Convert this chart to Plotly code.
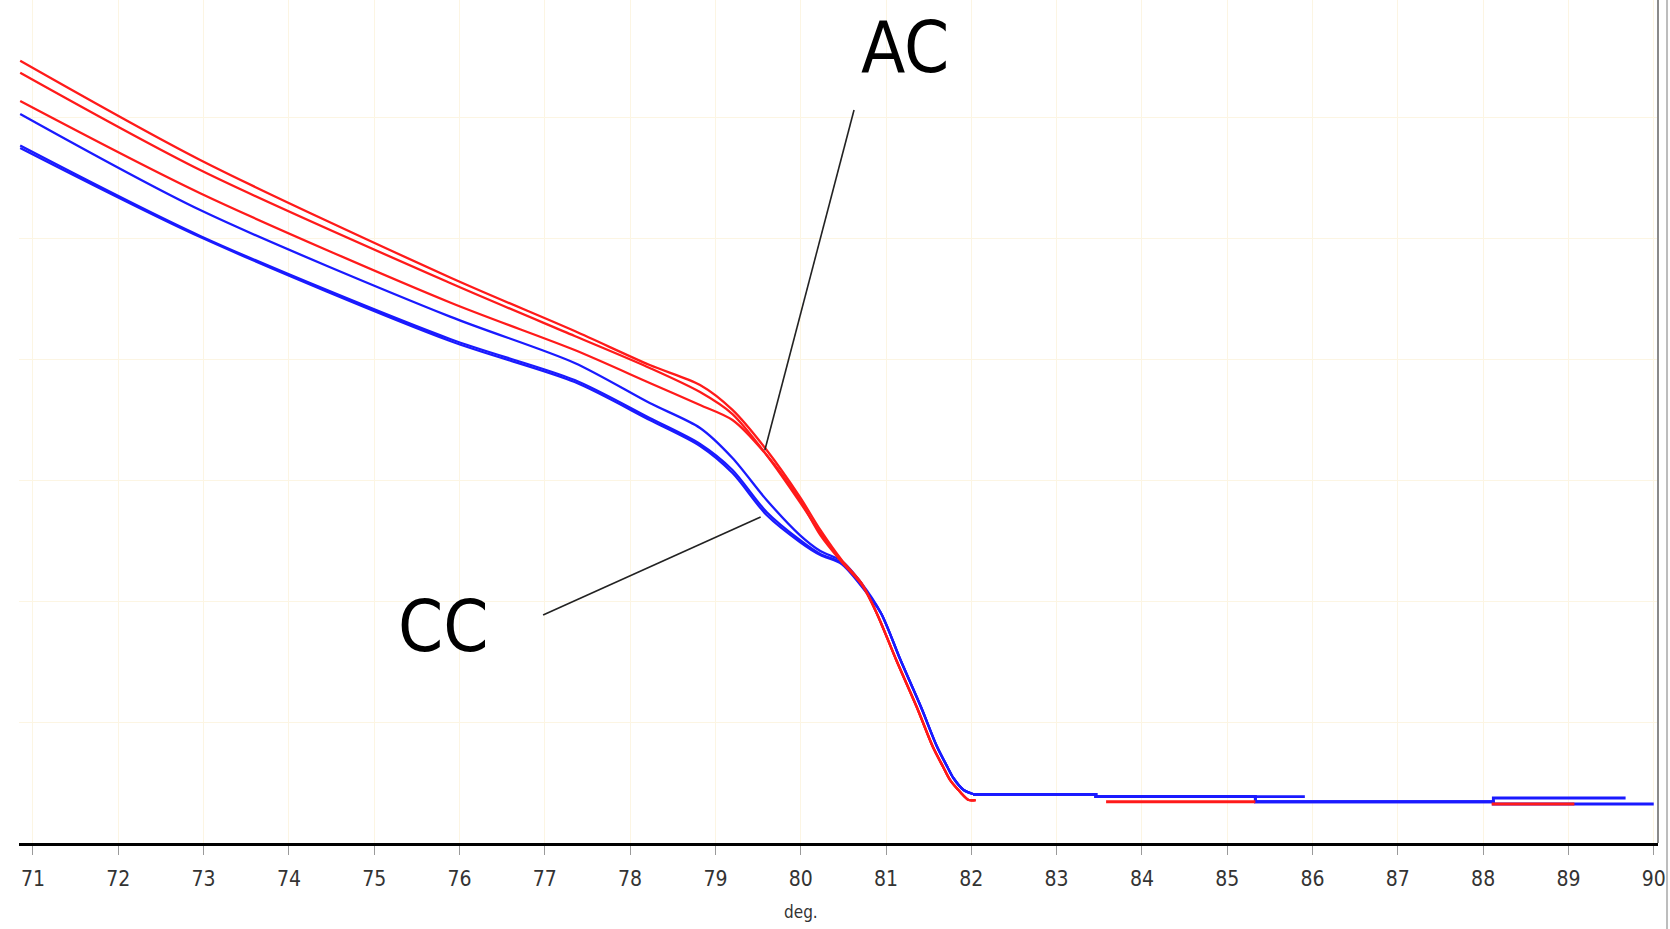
import plotly.graph_objects as go

# ---------------- data (x in deg., y in relative fluorescence units) ----------------
x_main = [70.85, 72.96, 75.89, 77.35, 78.23, 78.82, 79.2, 79.6, 79.99, 80.23, 80.48, 80.71]

red1_y = [6.465, 5.645, 4.674, 4.231, 3.950, 3.785, 3.579, 3.248, 2.860, 2.587, 2.339, 2.149]
red2_y = [6.366, 5.562, 4.628, 4.190, 3.926, 3.727, 3.545, 3.207, 2.818, 2.562, 2.331, 2.149]
red3_y = [6.132, 5.370, 4.467, 4.074, 3.802, 3.620, 3.496, 3.207, 2.835, 2.545, 2.322, 2.140]

blue1_y = [6.025, 5.231, 4.350, 3.967, 3.636, 3.430, 3.182, 2.835, 2.545, 2.413, 2.331, 2.149]
blue2_y = [5.764, 5.017, 4.165, 3.826, 3.512, 3.298, 3.083, 2.736, 2.504, 2.388, 2.314, 2.132]
blue3_y = [5.744, 5.008, 4.149, 3.810, 3.496, 3.281, 3.058, 2.711, 2.488, 2.380, 2.306, 2.124]

# steep melting drop
red_drop_x = [80.89, 81.12, 81.36, 81.55, 81.67, 81.75, 81.87, 81.97, 82.05]
red_drop_y = [1.901, 1.512, 1.124, 0.793, 0.628, 0.521, 0.421, 0.355, 0.355]
blue_drop_x = [80.94, 81.17, 81.41, 81.60, 81.72, 81.79, 81.91, 82.02]
blue_drop_y = [1.901, 1.512, 1.124, 0.793, 0.628, 0.537, 0.438, 0.405]

# baseline tails (visible segments)
red3_tail_x = [83.58, 85.33, None, 88.10, 89.07]
red3_tail_y = [0.341, 0.341, None, 0.322, 0.322]

blue1_tail_x = [82.02, 83.46, 83.46, 85.91]
blue1_tail_y = [0.402, 0.402, 0.383, 0.383]
blue2_tail_x = [82.02, 83.46, 83.46, 85.33, 85.33, 88.12, 88.12, 89.67]
blue2_tail_y = [0.402, 0.402, 0.383, 0.383, 0.341, 0.341, 0.372, 0.372]
blue3_tail_x = [82.02, 83.46, 83.46, 85.33, 85.33, 88.12, 88.12, 90.00]
blue3_tail_y = [0.402, 0.402, 0.383, 0.383, 0.341, 0.341, 0.322, 0.322]

tick_vals = list(range(71, 91))
tick_text = [str(v) for v in tick_vals]
x_title = "deg."

labels = ["AC", "CC"]
label_x = [81.22, 75.81]
label_y = [6.58, 1.79]
# pointer lines: (x0, y0, x1, y1)
pointer_ac = [80.625, 6.058, 79.58, 3.248]
pointer_cc = [76.98, 1.884, 79.53, 2.694]

RED = "#ff1a1a"
BLUE = "#1a1aff"
FONT = "Liberation Sans Narrow, Arial Narrow, DejaVu Sans Condensed, Liberation Sans, sans-serif"
LW = 2.3

fig = go.Figure()


def add_series(main_y, drop_x, drop_y, tail_x, tail_y, color):
    fig.add_trace(go.Scatter(
        x=x_main + drop_x, y=main_y + drop_y, mode="lines",
        line=dict(color=color, width=LW, shape="spline", smoothing=0.8),
        showlegend=False, hoverinfo="skip"))
    if tail_x:
        fig.add_trace(go.Scatter(
            x=tail_x, y=tail_y, mode="lines", connectgaps=False,
            line=dict(color=color, width=LW + 0.6),
            showlegend=False, hoverinfo="skip"))


add_series(blue1_y, blue_drop_x, blue_drop_y, blue1_tail_x, blue1_tail_y, BLUE)
add_series(blue2_y, blue_drop_x, blue_drop_y, blue2_tail_x, blue2_tail_y, BLUE)
add_series(blue3_y, blue_drop_x, blue_drop_y, blue3_tail_x, blue3_tail_y, BLUE)
add_series(red1_y, red_drop_x, red_drop_y, [], [], RED)
add_series(red2_y, red_drop_x, red_drop_y, [], [], RED)
add_series(red3_y, red_drop_x, red_drop_y, red3_tail_x, red3_tail_y, RED)

for p in (pointer_ac, pointer_cc):
    fig.add_shape(type="line", xref="x", yref="y", x0=p[0], y0=p[1], x1=p[2], y1=p[3],
                  line=dict(color="#222222", width=1.6))

for t, lx, ly in zip(labels, label_x, label_y):
    fig.add_annotation(x=lx, y=ly, xref="x", yref="y", text=t, showarrow=False,
                       font=dict(family=FONT, size=72, color="#000000"))

fig.add_annotation(x=80, y=-0.082, xref="x", yref="paper", text=x_title, showarrow=False,
                   yanchor="middle", font=dict(family=FONT, size=17, color="#333333"))

# right frame borders
fig.add_shape(type="line", xref="paper", yref="paper", x0=1, x1=1, y0=0, y1=1,
              line=dict(color="#8a8a8a", width=2))
fig.add_shape(type="line", xref="paper", yref="paper", x0=1.0055, x1=1.0055, y0=-0.11, y1=1,
              line=dict(color="#bdbdbd", width=2))

fig.update_layout(
    width=1670, height=929,
    margin=dict(l=19, r=12, t=0, b=86),
    paper_bgcolor="white", plot_bgcolor="white",
    xaxis=dict(range=[70.836, 90.05], tickvals=tick_vals, ticktext=tick_text,
               showgrid=True, gridcolor="#fcf5e3", gridwidth=1, zeroline=False,
               showline=True, linecolor="#000000", linewidth=3,
               ticks="outside", ticklen=9, tickcolor="#9a9a9a", tickwidth=1,
               ticklabelstandoff=6,
               tickfont=dict(family=FONT, size=21, color="#333333")),
    yaxis=dict(range=[0, 6.967], dtick=1, showgrid=True, gridcolor="#fcf5e3", gridwidth=1,
               zeroline=False, showticklabels=False, showline=False, ticks=""),
)

fig.write_html("out.html",
               config={"displayModeBar": False},
               post_script="document.body.style.margin='0';document.body.style.padding='0';"
                           "document.documentElement.style.overflow='hidden';")
